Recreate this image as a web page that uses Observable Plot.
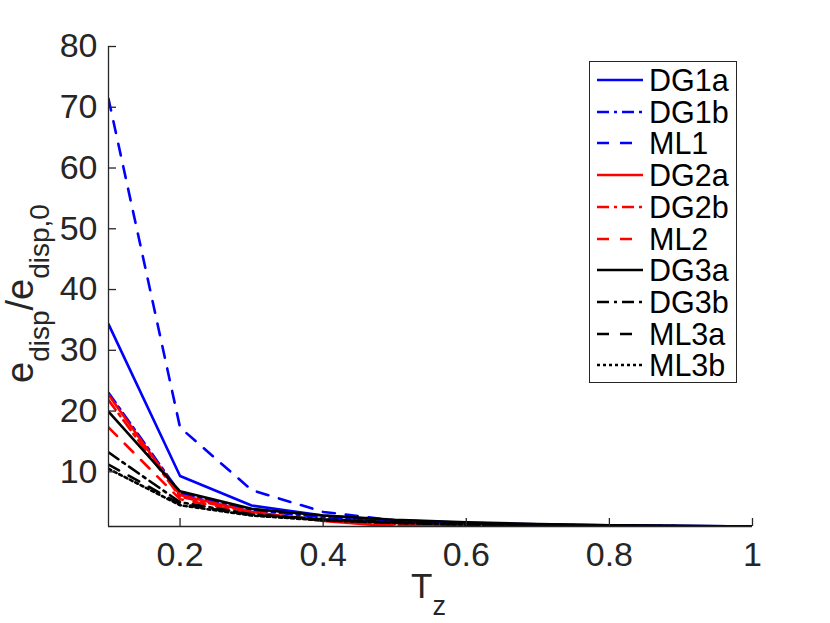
<!DOCTYPE html>
<html>
<head>
<meta charset="utf-8">
<script src="https://cdn.jsdelivr.net/npm/d3@7"></script>
<script src="https://cdn.jsdelivr.net/npm/@observablehq/plot@0.6"></script>
<style>
  html, body { margin: 0; padding: 0; background: white; }
  #wrap { position: relative; width: 830px; height: 623px; font-family: "Liberation Sans", Arial, Helvetica, sans-serif; }
  #legend { position: absolute; left: 589px; top: 61px; width: 146px; height: 320px; border: 1.3px solid #262626; background: white; }
  .row { position: absolute; left: 0; height: 30px; display: flex; align-items: center; }
  .row svg { margin-left: 7px; }
  .row span { margin-left: 6px; font-size: 30.5px; color: #000; line-height: 30px; }
</style>
</head>
<body>
<div id="wrap"></div>
<script>
// Data
const Tz = [0.1, 0.2, 0.3, 0.4, 0.5, 0.6, 0.7, 0.8, 0.9, 1.0];
const DG1a = [34.3, 9.3, 4.45, 2.8, 2.0, 1.6, 1.35, 1.2, 1.1, 1.0];
const DG1b = [23.0, 6.5, 3.7, 2.5, 1.8, 1.5, 1.3, 1.15, 1.05, 1.0];
const ML1  = [71.4, 17.3, 7.0, 3.4, 2.0, 1.3, 1.05, 0.98, 0.99, 1.0];
const DG2a = [22.7, 6.2, 3.4, 1.9, 1.0, 0.9, 0.9, 0.92, 0.96, 1.0];
const DG2b = [21.8, 5.9, 3.3, 2.0, 1.4, 1.15, 1.05, 1.0, 1.0, 1.0];
const ML2  = [17.3, 5.5, 3.2, 2.0, 1.3, 1.0, 0.97, 0.96, 0.98, 1.0];
const DG3a = [19.9, 6.8, 3.9, 2.8, 2.1, 1.7, 1.4, 1.2, 1.1, 1.0];
const DG3b = [13.2, 5.0, 3.0, 2.2, 1.7, 1.4, 1.25, 1.15, 1.05, 1.0];
const ML3a = [11.2, 4.7, 2.9, 2.1, 1.6, 1.35, 1.2, 1.1, 1.05, 1.0];
const ML3b = [10.5, 4.5, 2.8, 2.0, 1.6, 1.3, 1.2, 1.1, 1.0, 1.0];
const seriesNames = ["DG1a", "DG1b", "ML1", "DG2a", "DG2b", "ML2", "DG3a", "DG3b", "ML3a", "ML3b"];
const seriesValues = [DG1a, DG1b, ML1, DG2a, DG2b, ML2, DG3a, DG3b, ML3a, ML3b];
const xTicks = [0.2, 0.4, 0.6, 0.8, 1];
const yTicks = [10, 20, 30, 40, 50, 60, 70, 80];

// Styles
const colors = ["#0000ff", "#0000ff", "#0000ff", "#ff0000", "#ff0000", "#ff0000", "#000000", "#000000", "#000000", "#000000"];
const dashDot = "12,5,3,5", dashed = "12,11", dotted = "3,3";
const dashes = [null, dashDot, dashed, null, dashDot, dashed, null, dashDot, dashed, dotted];

const rows = seriesNames.map((name, i) => Tz.map((x, j) => ({name, x, y: seriesValues[i][j]})));

const W = 830, H = 623, mL = 108, mR = 78, mT = 46, mB = 97;
const tickLen = 8;

const chart = Plot.plot({
  width: W, height: H,
  marginLeft: mL, marginRight: mR, marginTop: mT, marginBottom: mB,
  x: {domain: [0.1, 1]},
  y: {domain: [1, 80]},
  style: {fontFamily: '"Liberation Sans", Arial, Helvetica, sans-serif', color: "#262626", background: "white", overflow: "visible"},
  marks: [
    ...rows.map((d, i) => Plot.line(d, {x: "x", y: "y", stroke: colors[i], strokeWidth: 2.6, strokeDasharray: dashes[i], clip: true})),
    Plot.ruleX([0.1], {stroke: "#262626", strokeWidth: 1.3}),
    Plot.ruleY([1], {stroke: "#262626", strokeWidth: 1.3}),
    // inward tick marks
    Plot.tickX(xTicks, {x: d => d, stroke: "#262626", strokeWidth: 1.3, insetTop: (H - mT - mB) - tickLen}),
    Plot.tickY(yTicks, {y: d => d, stroke: "#262626", strokeWidth: 1.3, insetRight: (W - mL - mR) - tickLen}),
    Plot.axisX({ticks: xTicks, tickFormat: d => String(+d.toFixed(1)), fontSize: 34, tickSize: 0, tickPadding: 15, label: null}),
    Plot.axisY({ticks: yTicks, fontSize: 34, tickSize: 0, tickPadding: 11, label: null})
  ]
});

const wrap = document.getElementById("wrap");
wrap.appendChild(chart);

// Axis labels with subscripts
const svg = d3.select(chart);
const yl = svg.append("text")
  .attr("transform", "translate(33,383) rotate(-90)")
  .attr("text-anchor", "start")
  .attr("fill", "#262626")
  .style("font-size", "38px");
yl.append("tspan").text("e");
yl.append("tspan").attr("dy", 16).style("font-size", "28px").text("disp");
yl.append("tspan").attr("dy", -16).text("/e");
yl.append("tspan").attr("dy", 16).style("font-size", "28px").text("disp,0");

const xl = svg.append("text")
  .attr("x", 411).attr("y", 598)
  .attr("text-anchor", "start")
  .attr("fill", "#262626")
  .style("font-size", "35px");
xl.append("tspan").text("T");
xl.append("tspan").attr("dy", 17).style("font-size", "27px").text("z");

// Legend
const leg = document.createElement("div");
leg.id = "legend";
seriesNames.forEach((name, i) => {
  const r = document.createElement("div");
  r.className = "row";
  r.style.top = (3 + i * 31.7) + "px";
  const ns = "http://www.w3.org/2000/svg";
  const s = document.createElementNS(ns, "svg");
  s.setAttribute("width", 46); s.setAttribute("height", 10);
  const l = document.createElementNS(ns, "line");
  l.setAttribute("x1", 0); l.setAttribute("x2", 46); l.setAttribute("y1", 5); l.setAttribute("y2", 5);
  l.setAttribute("stroke", colors[i]); l.setAttribute("stroke-width", 2.6);
  if (dashes[i]) l.setAttribute("stroke-dasharray", dashes[i]);
  s.appendChild(l);
  const t = document.createElement("span");
  t.textContent = name;
  r.appendChild(s); r.appendChild(t);
  leg.appendChild(r);
});
wrap.appendChild(leg);
</script>
</body>
</html>
